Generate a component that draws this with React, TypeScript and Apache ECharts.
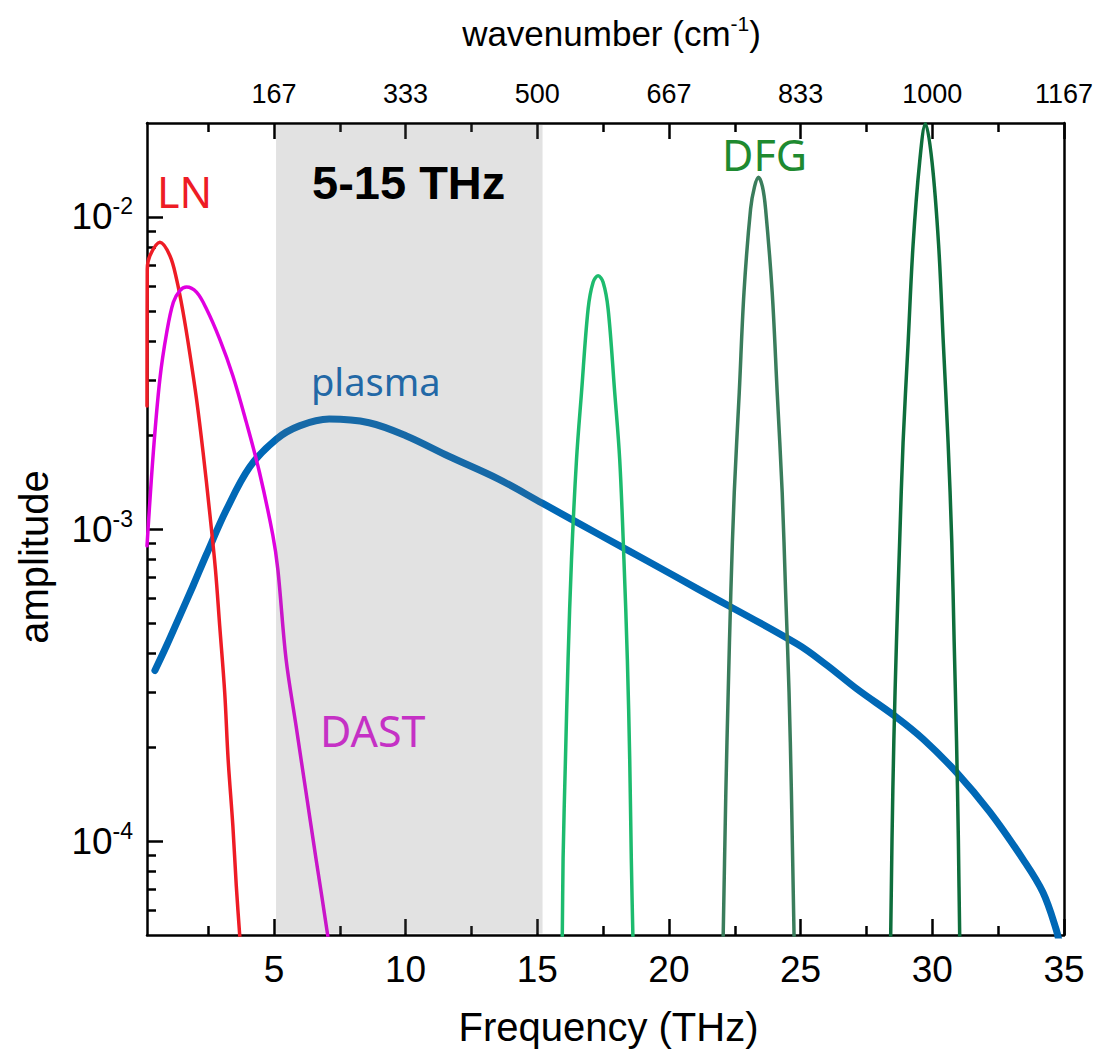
import React, { useEffect, useRef } from "react";
import * as echarts from "echarts";

// ---------- axis ranges & ticks ----------
const X_MIN = 0.18;
const X_MAX = 35;
const Y_MIN = 5e-5;
const Y_MAX = 0.02;

const freqTicks = [5, 10, 15, 20, 25, 30, 35];
const freqMinorTicks = [2.5, 7.5, 12.5, 17.5, 22.5, 27.5, 32.5];
const wavenumberLabels = ["167", "333", "500", "667", "833", "1000", "1167"];
const ampExponents = [-4, -3, -2];
const ampMinorMantissas = [2, 3, 4, 5, 6, 7, 8, 9];

// shaded window (THz)
const bandRange = [5.08, 15.2];

// ---------- series (frequency THz, amplitude) ----------
const plasmaData = [
  [0.48, 3.52e-4], [0.93, 4.24e-4], [1.43, 5.28e-4], [1.93, 6.58e-4],
  [2.44, 8.3e-4], [3.19, 1.15e-3], [4.08, 1.58e-3],
  [5.09, 1.94e-3], [5.97, 2.14e-3], [7.1, 2.25e-3], [8.61, 2.19e-3],
  [10.01, 1.99e-3], [11.64, 1.71e-3], [13.53, 1.445e-3], [15.19, 1.21e-3],
  [17.31, 9.64e-4], [19.2, 7.88e-4], [21.09, 6.43e-4], [24.87, 4.28e-4],
  [26.0, 3.66e-4], [27.14, 3.07e-4],
  [28.65, 2.49e-4], [29.66, 2.12e-4], [30.92, 1.66e-4], [32.18, 1.24e-4],
  [33.44, 8.75e-5], [34.2, 6.85e-5], [34.7, 5.22e-5], [34.85, 4.6e-5],
];

const lnData = [
  [0.18, 2.48e-3], [0.19, 6.8e-3], [0.29, 7.51e-3], [0.67, 8.29e-3],
  [1.05, 7.51e-3], [1.3, 6.33e-3], [1.55, 4.95e-3], [1.8, 3.68e-3],
  [2.06, 2.61e-3], [2.31, 1.76e-3], [2.56, 1.13e-3], [2.78, 7.4e-4],
  [2.94, 4.9e-4], [3.13, 3.0e-4], [3.26, 1.83e-4], [3.44, 1.12e-4],
  [3.57, 7.2e-5], [3.7, 5.0e-5], [3.8, 3.8e-5],
];

const dastData = [
  [0.18, 8.83e-4], [0.42, 1.76e-3], [0.67, 3.03e-3], [0.93, 4.27e-3],
  [1.18, 5.33e-3], [1.43, 5.81e-3], [1.68, 5.96e-3], [2.06, 5.74e-3],
  [2.44, 5.07e-3], [2.94, 4.06e-3], [3.44, 3.1e-3], [3.95, 2.2e-3],
  [4.45, 1.52e-3], [4.96, 9.53e-4], [5.15, 7.4e-4], [5.46, 3.83e-4],
  [5.84, 2.34e-4], [6.22, 1.43e-4], [6.6, 8.75e-5], [7.04, 5.0e-5],
  [7.1, 4.5e-5],
];

const dfg1Data = [
  [15.92, 4.0e-5], [15.95, 5.0e-5], [15.98, 8.8e-5], [16.07, 1.83e-4],
  [16.17, 3.83e-4], [16.3, 8.0e-4], [16.49, 1.67e-3], [16.68, 2.74e-3],
  [16.93, 5.07e-3], [17.12, 6.18e-3], [17.31, 6.48e-3], [17.5, 6.18e-3],
  [17.69, 5.07e-3], [17.94, 2.74e-3], [18.13, 1.67e-3], [18.29, 8.0e-4],
  [18.42, 3.83e-4], [18.51, 1.83e-4], [18.57, 8.8e-5], [18.63, 5.0e-5],
  [18.66, 4.0e-5],
];

const dfg2Data = [
  [22.03, 4.0e-5], [22.06, 5.0e-5], [22.16, 1.43e-4], [22.25, 3.0e-4],
  [22.35, 6.27e-4], [22.48, 1.31e-3], [22.67, 2.74e-3], [22.85, 5.74e-3],
  [23.1, 1.06e-2], [23.25, 1.25e-2], [23.4, 1.34e-2], [23.55, 1.25e-2],
  [23.67, 1.06e-2], [23.92, 5.74e-3], [24.11, 2.74e-3], [24.3, 1.31e-3],
  [24.43, 6.27e-4], [24.56, 3.0e-4], [24.65, 1.43e-4], [24.75, 5.0e-5],
  [24.78, 4.0e-5],
];

const dfg3Data = [
  [28.39, 4.0e-5], [28.42, 5.0e-5], [28.47, 1.01e-4], [28.54, 2.1e-4],
  [28.64, 4.36e-4], [28.76, 9.08e-4], [28.89, 1.89e-3], [29.08, 3.92e-3],
  [29.27, 8.13e-3], [29.52, 1.5e-2], [29.74, 1.99e-2], [29.99, 1.5e-2],
  [30.24, 8.13e-3], [30.42, 3.92e-3], [30.6, 1.89e-3], [30.74, 9.08e-4],
  [30.83, 4.36e-4], [30.92, 2.1e-4], [30.99, 1.01e-4], [31.04, 5.0e-5],
  [31.07, 4.0e-5],
];

const FONT = "'Liberation Sans', Arial, Helvetica, sans-serif";
const LABEL_FONT = "'Noto Sans', 'Open Sans', sans-serif";

export default function App() {
  const ref = useRef<HTMLDivElement>(null);

  useEffect(() => {
    document.body.style.margin = "0";
    if (!ref.current) return;
    const chart = echarts.init(ref.current, undefined, { renderer: "svg" });

    const lgMin = Math.log10(Y_MIN);
    const lgMax = Math.log10(Y_MAX);
    const minorLog: number[] = [];
    for (let e = -5; e <= -2; e++) {
      for (const m of ampMinorMantissas) {
        const v = Math.log10(m) + e;
        if (v > lgMin && v < lgMax) minorLog.push(v);
      }
    }

    const axisLine = { show: true, lineStyle: { color: "#000", width: 2.5 } };
    const baseX = {
      type: "value" as const,
      min: X_MIN,
      max: X_MAX,
      splitLine: { show: false },
    };

    const lineSeries = (name: string, data: number[][], color: string, width: number) => ({
      name,
      type: "line" as const,
      data,
      xAxisIndex: 0,
      yAxisIndex: 0,
      showSymbol: false,
      symbol: "none",
      smooth: 0.35,
      clip: true,
      lineStyle: { color, width, cap: "round" as const, join: "round" as const },
      z: 2,
    });

    const option: any = {
      animation: false,
      backgroundColor: "#fff",
      grid: { left: 147, right: 28, top: 123, bottom: 129, containLabel: false },
      xAxis: [
        {
          ...baseX,
          position: "bottom",
          axisLine,
          axisTick: {
            show: true,
            inside: true,
            length: 16,
            customValues: freqTicks,
            lineStyle: { color: "#000", width: 2.5 },
          },
          axisLabel: {
            show: true,
            customValues: freqTicks,
            margin: 16,
            fontSize: 37,
            color: "#000",
            fontFamily: FONT,
          },
          name: "Frequency (THz)",
          nameLocation: "middle",
          nameGap: 72,
          nameTextStyle: { fontSize: 40, color: "#000", fontFamily: FONT, padding: [0, 0, 0, 6] },
        },
        {
          ...baseX,
          position: "bottom",
          axisLine: { show: false },
          axisTick: {
            show: true,
            inside: true,
            length: 9,
            customValues: freqMinorTicks,
            lineStyle: { color: "#000", width: 2.5 },
          },
          axisLabel: { show: false },
        },
        {
          ...baseX,
          position: "top",
          axisLine,
          axisTick: {
            show: true,
            inside: true,
            length: 16,
            customValues: freqTicks,
            lineStyle: { color: "#000", width: 2.5 },
          },
          axisLabel: {
            show: true,
            customValues: freqTicks,
            margin: 16,
            fontSize: 27,
            color: "#000",
            fontFamily: FONT,
            formatter: (v: number) => {
              const i = freqTicks.findIndex((t) => Math.abs(t - v) < 1e-6);
              return i >= 0 ? wavenumberLabels[i] : "";
            },
          },
          name: "{a|wavenumber (cm}{s|-1}{a|)}",
          nameLocation: "middle",
          nameGap: 70,
          nameTextStyle: {
            color: "#000",
            fontFamily: FONT,
            padding: [0, 0, 0, 12],
            rich: {
              a: { fontSize: 35, fontFamily: FONT, color: "#000", lineHeight: 40 },
              s: { fontSize: 21, fontFamily: FONT, color: "#000", lineHeight: 40, verticalAlign: "top" },
            },
          },
        },
        {
          ...baseX,
          position: "top",
          axisLine: { show: false },
          axisTick: {
            show: true,
            inside: true,
            length: 9,
            customValues: freqMinorTicks,
            lineStyle: { color: "#000", width: 2.5 },
          },
          axisLabel: { show: false },
        },
      ],
      yAxis: [
        {
          type: "log",
          logBase: 10,
          min: Y_MIN,
          max: Y_MAX,
          show: false,
        },
        {
          type: "value",
          min: lgMin,
          max: lgMax,
          position: "left",
          splitLine: { show: false },
          axisLine,
          axisTick: {
            show: true,
            inside: true,
            length: 16,
            customValues: ampExponents,
            lineStyle: { color: "#000", width: 2.5 },
          },
          axisLabel: {
            show: true,
            customValues: ampExponents,
            margin: 14,
            formatter: (v: number) => `{a|10}{s|${Math.round(v)}}`,
            rich: {
              a: { fontSize: 37, fontFamily: FONT, color: "#000", lineHeight: 44 },
              s: { fontSize: 23, fontFamily: FONT, color: "#000", lineHeight: 44, verticalAlign: "top" },
            },
          },
        },
        {
          type: "value",
          min: lgMin,
          max: lgMax,
          position: "left",
          splitLine: { show: false },
          axisLine: { show: false },
          axisTick: {
            show: true,
            inside: true,
            length: 9,
            customValues: minorLog,
            lineStyle: { color: "#000", width: 2.5 },
          },
          axisLabel: { show: false },
        },
        {
          type: "value",
          min: lgMin,
          max: lgMax,
          position: "right",
          splitLine: { show: false },
          axisLine,
          axisTick: { show: false },
          axisLabel: { show: false },
        },
      ],
      series: [
        lineSeries("plasma", plasmaData, "#0068b6", 7),
        lineSeries("LN", lnData, "#ee1c25", 3.5),
        lineSeries("DAST", dastData, "#e000e0", 3.5),
        lineSeries("DFG 1", dfg1Data, "#1dbb6e", 3.5),
        lineSeries("DFG 2", dfg2Data, "#3a7d5c", 3.5),
        lineSeries("DFG 3", dfg3Data, "#0e6e3c", 3.5),
        {
          name: "window",
          type: "custom",
          xAxisIndex: 0,
          yAxisIndex: 0,
          z: 3,
          silent: true,
          data: [bandRange],
          renderItem: (_p: any, api: any) => {
            const a = api.coord([api.value(0), Y_MAX]);
            const b = api.coord([api.value(1), Y_MIN]);
            return {
              type: "rect",
              shape: { x: a[0], y: a[1] + 1.5, width: b[0] - a[0], height: b[1] - a[1] - 3 },
              style: { fill: "rgba(110,110,110,0.2)" },
            };
          },
        },
      ],
      graphic: [
        {
          type: "text",
          z: 100,
          left: 312,
          top: 159,
          style: { text: "5-15 THz", fontSize: 47, fontWeight: "bold", fill: "#000", fontFamily: FONT },
        },
        {
          type: "text",
          z: 100,
          left: 157,
          top: 170,
          style: { text: "LN", fontSize: 43, fill: "#ee1c25", fontFamily: LABEL_FONT },
        },
        {
          type: "text",
          z: 100,
          left: 311,
          top: 362,
          style: { text: "plasma", fontSize: 38, fill: "#2268a6", fontFamily: LABEL_FONT },
        },
        {
          type: "text",
          z: 100,
          left: 320,
          top: 709,
          style: { text: "DAST", fontSize: 43, fill: "#c531c5", fontFamily: LABEL_FONT },
        },
        {
          type: "text",
          z: 100,
          left: 722,
          top: 133,
          style: { text: "DFG", fontSize: 43, fill: "#1e8a30", fontFamily: LABEL_FONT },
        },
        {
          type: "text",
          z: 100,
          x: 34,
          y: 557,
          rotation: Math.PI / 2,
          style: {
            text: "amplitude",
            fontSize: 40,
            fill: "#000",
            fontFamily: FONT,
            align: "center",
            verticalAlign: "middle",
          },
        },
      ],
    };

    chart.setOption(option);
    return () => {
      chart.dispose();
    };
  }, []);

  return <div ref={ref} style={{ width: 1096, height: 1064 }} />;
}
